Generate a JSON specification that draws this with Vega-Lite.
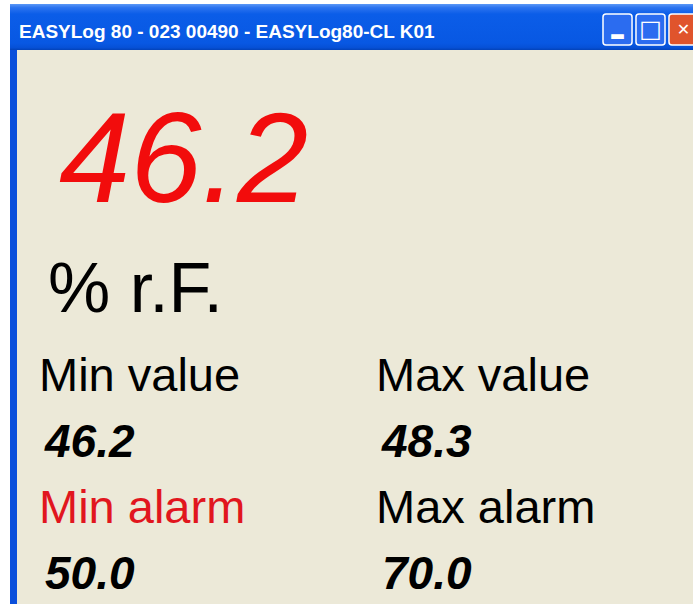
{
  "$schema": "https://vega.github.io/schema/vega-lite/v6.json",
  "background": "#FFFFFF",
  "padding": {"left": 10, "top": 4, "right": 0, "bottom": 0},
  "config": {"view": {"stroke": null}, "concat": {"spacing": 0}},
  "spacing": 0,
  "bounds": "flush",
  "vconcat": [
    {
      "width": 683,
      "height": 46,
      "view": {
        "stroke": null,
        "fill": {
          "gradient": "linear", "x1": 0, "y1": 0, "x2": 0, "y2": 1,
          "stops": [
            {"offset": 0, "color": "#5B98F6"},
            {"offset": 0.08, "color": "#2C73EF"},
            {"offset": 0.22, "color": "#0B5DE8"},
            {"offset": 0.85, "color": "#0858E3"},
            {"offset": 0.95, "color": "#0650D6"},
            {"offset": 1, "color": "#0342B8"}
          ]
        }
      },
      "resolve": {"scale": {"x": "independent", "y": "independent"}},
      "layer": [
        {
          "data": {"values": [{"window": "caption", "caption": "EASYLog 80 - 023 00490 - EASYLog80-CL K01"}]},
          "mark": {"type": "text", "align": "left", "baseline": "alphabetic", "font": "Liberation Sans", "fontWeight": "bold", "fontSize": 19, "color": "#FFFFFF"},
          "encoding": {
            "x": {"field": "window", "type": "nominal", "scale": {"type": "point", "range": [9, 9]}, "axis": null},
            "y": {"field": "window", "type": "nominal", "scale": {"type": "point", "range": [34, 34]}, "axis": null},
            "text": {"field": "caption"}
          }
        },
        {
          "data": {"values": [
            {"button": "minimize", "symbol": "▂"},
            {"button": "maximize", "symbol": "□"},
            {"button": "close", "symbol": "✕"}
          ]},
          "encoding": {
            "x": {"field": "button", "type": "nominal", "sort": ["minimize", "maximize", "close"], "scale": {"type": "band", "range": [593, 688], "paddingInner": 0.12, "paddingOuter": 0}, "axis": null},
            "y": {"datum": "buttons", "type": "nominal", "scale": {"type": "band", "range": [10, 41], "paddingInner": 0, "paddingOuter": 0}, "axis": null}
          },
          "layer": [
            {
              "mark": {"type": "rect", "cornerRadius": 3, "stroke": "#FFFFFF", "strokeWidth": 1.5, "clip": true},
              "encoding": {
                "fill": {"condition": {"test": "datum.button === 'close'", "value": "#E0542C"}, "value": "#2B6CF0"}
              }
            },
            {
              "mark": {"type": "text", "font": "DejaVu Sans", "fontWeight": "bold", "color": "#FFFFFF", "baseline": "middle", "clip": true},
              "encoding": {
                "text": {"field": "symbol"},
                "size": {"condition": {"test": "datum.button === 'maximize'", "value": 24}, "value": 16}
              }
            }
          ]
        }
      ]
    },
    {
      "spacing": 0,
      "bounds": "flush",
      "hconcat": [
        {
          "width": 7,
          "height": 554,
          "view": {"fill": "#0B4FDB", "stroke": null},
          "data": {"values": []},
          "mark": "text"
        },
        {
          "spacing": 0,
          "bounds": "flush",
          "vconcat": [
            {
              "width": 676,
              "height": 278,
              "view": {"fill": "#ECE9D8", "stroke": null},
              "data": {"values": [{"quantity": "Relative humidity", "value": 46.2, "unit": "% r.F."}]},
              "encoding": {
                "x": {"field": "quantity", "type": "nominal", "scale": {"type": "point", "range": [42, 42]}, "axis": null}
              },
              "layer": [
                {
                  "mark": {"type": "text", "align": "left", "baseline": "alphabetic", "font": "Liberation Sans", "fontStyle": "italic", "fontSize": 128, "color": "#F20C0C"},
                  "encoding": {
                    "y": {"datum": "reading", "type": "nominal", "scale": {"type": "point", "domain": ["reading", "unit"], "range": [152, 262], "padding": 0}, "axis": null},
                    "text": {"field": "value", "type": "quantitative", "format": ".1f"}
                  }
                },
                {
                  "mark": {"type": "text", "align": "left", "baseline": "alphabetic", "font": "Liberation Sans", "fontSize": 70, "color": "#000000", "dx": -11},
                  "encoding": {
                    "y": {"datum": "unit", "type": "nominal", "scale": {"type": "point", "domain": ["reading", "unit"], "range": [152, 262], "padding": 0}, "axis": null},
                    "text": {"field": "unit"}
                  }
                }
              ]
            },
            {
              "width": 676,
              "height": 276,
              "view": {"fill": "#ECE9D8", "stroke": null},
              "data": {"values": [
                {"label": "Min value", "reading": 46.2, "bound": "min", "kind": "recorded", "active": false},
                {"label": "Max value", "reading": 48.3, "bound": "max", "kind": "recorded", "active": false},
                {"label": "Min alarm", "reading": 50.0, "bound": "min", "kind": "alarm", "active": true},
                {"label": "Max alarm", "reading": 70.0, "bound": "max", "kind": "alarm", "active": false}
              ]},
              "encoding": {
                "x": {"field": "bound", "type": "nominal", "sort": ["min", "max"], "scale": {"type": "point", "range": [22, 359], "padding": 0}, "axis": null},
                "y": {"field": "kind", "type": "nominal", "sort": ["recorded", "alarm"], "scale": {"type": "point", "range": [63, 195], "padding": 0}, "axis": null}
              },
              "layer": [
                {
                  "mark": {"type": "text", "align": "left", "baseline": "alphabetic", "font": "Liberation Sans", "fontSize": 47},
                  "encoding": {
                    "text": {"field": "label"},
                    "color": {"condition": {"test": "datum.active", "value": "#E1161E"}, "value": "#000000"}
                  }
                },
                {
                  "mark": {"type": "text", "align": "left", "baseline": "alphabetic", "font": "Liberation Sans", "fontStyle": "italic", "fontWeight": "bold", "fontSize": 46, "color": "#000000", "dx": 6, "dy": 66},
                  "encoding": {
                    "text": {"field": "reading", "type": "quantitative", "format": ".1f"}
                  }
                }
              ]
            }
          ]
        }
      ]
    }
  ]
}
